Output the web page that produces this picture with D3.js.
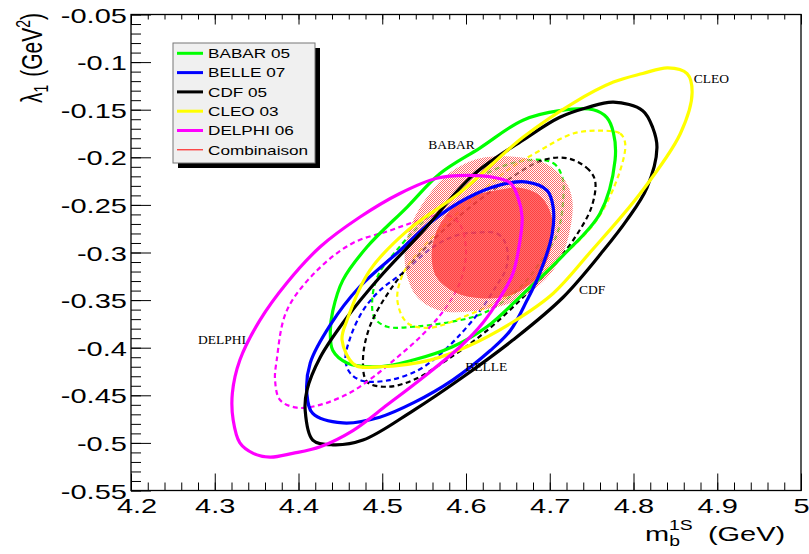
<!DOCTYPE html>
<html>
<head>
<meta charset="utf-8">
<script src="https://cdn.jsdelivr.net/npm/d3@7"></script>
<style>
  html, body { margin: 0; padding: 0; background: #fff; }
  svg { display: block; }
</style>
</head>
<body>
<svg id="chart" width="809" height="554"></svg>
<script>
// ---------------- data ----------------
const xMajorTicks = [4.2, 4.3, 4.4, 4.5, 4.6, 4.7, 4.8, 4.9, 5.0];
const xTickLabels = ["4.2", "4.3", "4.4", "4.5", "4.6", "4.7", "4.8", "4.9", "5"];
const yMajorTicks = [-0.55, -0.5, -0.45, -0.4, -0.35, -0.3, -0.25, -0.2, -0.15, -0.1, -0.05];
const yTickLabels = ["-0.55", "-0.5", "-0.45", "-0.4", "-0.35", "-0.3", "-0.25", "-0.2", "-0.15", "-0.1", "-0.05"];

const legendNames = ["BABAR 05", "BELLE 07", "CDF 05", "CLEO 03", "DELPHI 06", "Combinaison"];
const legendColors = ["#00ff00", "#0000ff", "#000000", "#ffff00", "#ff00ff", "#ff0000"];

// outer (solid) contours  [m_b, lambda1]
const babarSolid = [[4.712,-0.151],[4.752,-0.150],[4.768,-0.158],[4.776,-0.174],[4.778,-0.203],[4.760,-0.259],[4.716,-0.303],[4.664,-0.347],[4.625,-0.378],[4.584,-0.399],[4.537,-0.413],[4.497,-0.420],[4.458,-0.416],[4.441,-0.403],[4.438,-0.382],[4.441,-0.361],[4.453,-0.329],[4.482,-0.294],[4.530,-0.252],[4.569,-0.217],[4.617,-0.190],[4.668,-0.161]];
const belleSolid = [[4.673,-0.226],[4.697,-0.235],[4.704,-0.252],[4.703,-0.280],[4.688,-0.322],[4.673,-0.350],[4.653,-0.382],[4.629,-0.403],[4.584,-0.434],[4.537,-0.458],[4.497,-0.473],[4.453,-0.479],[4.417,-0.469],[4.410,-0.448],[4.414,-0.416],[4.438,-0.376],[4.473,-0.336],[4.521,-0.298],[4.561,-0.266],[4.601,-0.243],[4.641,-0.229]];
const cdfSolid = [[4.776,-0.142],[4.811,-0.151],[4.823,-0.169],[4.828,-0.190],[4.816,-0.232],[4.792,-0.266],[4.764,-0.298],[4.716,-0.347],[4.656,-0.392],[4.596,-0.431],[4.537,-0.466],[4.477,-0.497],[4.441,-0.502],[4.417,-0.497],[4.408,-0.466],[4.410,-0.445],[4.426,-0.410],[4.458,-0.368],[4.497,-0.326],[4.549,-0.277],[4.608,-0.219],[4.668,-0.182],[4.712,-0.158],[4.744,-0.148]];
const cleoSolid = [[4.841,-0.106],[4.864,-0.112],[4.870,-0.132],[4.856,-0.175],[4.808,-0.238],[4.748,-0.300],[4.704,-0.343],[4.656,-0.373],[4.601,-0.399],[4.557,-0.413],[4.497,-0.420],[4.467,-0.418],[4.452,-0.392],[4.458,-0.371],[4.485,-0.319],[4.530,-0.277],[4.593,-0.237],[4.668,-0.179],[4.728,-0.143],[4.776,-0.121],[4.811,-0.112]];
const delphiSolid = [[4.601,-0.219],[4.632,-0.221],[4.653,-0.227],[4.662,-0.242],[4.667,-0.263],[4.664,-0.290],[4.656,-0.322],[4.641,-0.347],[4.620,-0.374],[4.593,-0.399],[4.549,-0.431],[4.506,-0.460],[4.465,-0.487],[4.426,-0.504],[4.393,-0.511],[4.366,-0.515],[4.346,-0.511],[4.330,-0.500],[4.322,-0.476],[4.321,-0.448],[4.330,-0.413],[4.354,-0.371],[4.386,-0.332],[4.426,-0.294],[4.473,-0.263],[4.521,-0.238],[4.565,-0.222]];

// inner (dashed) contours
const babarDashed = [[4.673,-0.203],[4.704,-0.206],[4.715,-0.221],[4.716,-0.245],[4.709,-0.280],[4.688,-0.311],[4.661,-0.340],[4.620,-0.364],[4.581,-0.373],[4.537,-0.378],[4.506,-0.378],[4.491,-0.369],[4.488,-0.350],[4.495,-0.324],[4.515,-0.300],[4.545,-0.271],[4.581,-0.244],[4.629,-0.215]];
const belleDashed = [[4.613,-0.279],[4.637,-0.280],[4.647,-0.290],[4.650,-0.305],[4.647,-0.319],[4.637,-0.334],[4.617,-0.361],[4.589,-0.390],[4.565,-0.410],[4.542,-0.424],[4.509,-0.434],[4.477,-0.435],[4.462,-0.427],[4.456,-0.413],[4.462,-0.389],[4.477,-0.361],[4.497,-0.340],[4.525,-0.321],[4.561,-0.294],[4.589,-0.282]];
const cdfDashed = [[4.721,-0.201],[4.744,-0.211],[4.754,-0.224],[4.750,-0.252],[4.728,-0.287],[4.709,-0.308],[4.676,-0.340],[4.625,-0.382],[4.577,-0.413],[4.537,-0.434],[4.506,-0.441],[4.482,-0.436],[4.477,-0.413],[4.485,-0.378],[4.509,-0.340],[4.545,-0.301],[4.593,-0.261],[4.641,-0.229],[4.692,-0.203]];
const cleoDashed = [[4.764,-0.172],[4.784,-0.175],[4.790,-0.185],[4.784,-0.214],[4.756,-0.266],[4.709,-0.308],[4.656,-0.343],[4.596,-0.368],[4.557,-0.379],[4.530,-0.374],[4.518,-0.350],[4.525,-0.322],[4.545,-0.298],[4.593,-0.256],[4.649,-0.214],[4.688,-0.193],[4.728,-0.175]];
const delphiDashed = [[4.575,-0.260],[4.593,-0.271],[4.600,-0.298],[4.595,-0.326],[4.584,-0.347],[4.569,-0.366],[4.545,-0.389],[4.518,-0.410],[4.489,-0.431],[4.462,-0.447],[4.426,-0.460],[4.398,-0.463],[4.378,-0.455],[4.372,-0.434],[4.374,-0.413],[4.386,-0.361],[4.422,-0.319],[4.465,-0.290],[4.509,-0.277],[4.545,-0.266]];

// combination regions
const comboOuter = [[4.617,-0.201],[4.664,-0.200],[4.698,-0.208],[4.718,-0.224],[4.727,-0.245],[4.724,-0.277],[4.712,-0.308],[4.688,-0.334],[4.653,-0.353],[4.605,-0.362],[4.569,-0.361],[4.543,-0.348],[4.530,-0.326],[4.527,-0.298],[4.536,-0.268],[4.555,-0.240],[4.581,-0.216]];
const comboInner = [[4.635,-0.235],[4.664,-0.232],[4.688,-0.240],[4.700,-0.256],[4.704,-0.277],[4.698,-0.306],[4.682,-0.329],[4.653,-0.345],[4.617,-0.348],[4.587,-0.342],[4.565,-0.326],[4.559,-0.306],[4.563,-0.282],[4.579,-0.258],[4.605,-0.242]];

// experiment labels (data coordinates)
const labelNames = ["BABAR", "CLEO", "CDF", "BELLE", "DELPHI"];
const labelX = [4.555, 4.872, 4.735, 4.599, 4.280];
const labelY = [-0.191, -0.122, -0.344, -0.424, -0.396];

// ---------------- drawing ----------------
const svg = d3.select("#chart");
const SANS = "'Liberation Sans', Arial, Helvetica, sans-serif";
const SERIF = "'Liberation Serif', 'Times New Roman', serif";
const STRETCH = 1.38;

const x = d3.scaleLinear().domain([4.2, 5.0]).range([131, 801]);
const y = d3.scaleLinear().domain([-0.55, -0.05]).range([490.5, 14.5]);

const defs = svg.append("defs");
const pat = defs.append("pattern").attr("id", "stipple")
  .attr("width", 2).attr("height", 2).attr("patternUnits", "userSpaceOnUse");
pat.append("rect").attr("width", 2).attr("height", 2).attr("fill", "#ffffff");
pat.append("rect").attr("x", 0).attr("y", 0).attr("width", 1).attr("height", 1).attr("fill", "#ff1a1a");
pat.append("rect").attr("x", 1).attr("y", 1).attr("width", 1).attr("height", 1).attr("fill", "#ff1a1a");
defs.append("clipPath").attr("id", "plotclip").append("rect")
  .attr("x", 131).attr("y", 14.5).attr("width", 670).attr("height", 476);

const line = d3.line().x(d => x(d[0])).y(d => y(d[1])).curve(d3.curveCatmullRomClosed.alpha(0.5));

const plot = svg.append("g").attr("clip-path", "url(#plotclip)");

// dashed contours (below the combination)
const dashed = [
  [babarDashed, legendColors[0]],
  [belleDashed, legendColors[1]],
  [cdfDashed, legendColors[2]],
  [cleoDashed, legendColors[3]],
  [delphiDashed, legendColors[4]]
];
plot.selectAll("path.dash").data(dashed).join("path").attr("class", "dash")
  .attr("d", d => line(d[0]))
  .attr("fill", "none").attr("stroke", d => d[1])
  .attr("stroke-width", 2.2).attr("stroke-dasharray", "5,3.5");

// combination
plot.append("path").attr("d", line(comboOuter)).attr("fill", "url(#stipple)").attr("fill-opacity", 0.65);
plot.append("path").attr("d", line(comboInner)).attr("fill", "#ff3030").attr("fill-opacity", 0.7);

// solid contours
const solid = [
  [babarSolid, legendColors[0]],
  [belleSolid, legendColors[1]],
  [cdfSolid, legendColors[2]],
  [cleoSolid, legendColors[3]],
  [delphiSolid, legendColors[4]]
];
plot.selectAll("path.solid").data(solid).join("path").attr("class", "solid")
  .attr("d", d => line(d[0]))
  .attr("fill", "none").attr("stroke", d => d[1])
  .attr("stroke-width", 3.2).attr("stroke-linejoin", "round");

// labels
svg.selectAll("text.exp").data(labelNames).join("text").attr("class", "exp")
  .attr("x", (d, i) => x(labelX[i])).attr("y", (d, i) => y(labelY[i]))
  .attr("font-family", SERIF).attr("font-size", 13.5).attr("fill", "#000")
  .text(d => d);

// ---------------- axes ----------------
const minorX = d3.range(0, 41).map(i => 4.2 + i * 0.02);
const minorY = d3.range(0, 51).map(i => -0.55 + i * 0.01);

function styleAxis(g) {
  g.select(".domain").remove();
  g.selectAll("line").attr("stroke", "#000").attr("stroke-width", 1);
}

// bottom
svg.append("g").attr("transform", `translate(0,${y(-0.55)})`)
  .call(d3.axisBottom(x).tickValues(minorX).tickSize(-8).tickFormat("")).call(styleAxis);
const xb = svg.append("g").attr("transform", `translate(0,${y(-0.55)})`)
  .call(d3.axisBottom(x).tickValues(xMajorTicks).tickSize(-17).tickPadding(6)
    .tickFormat((d, i) => xTickLabels[i])).call(styleAxis);
xb.selectAll("text").attr("font-family", SANS).attr("font-size", 21).attr("fill", "#000")
  .attr("y", 22.5).attr("dy", 0)
  .attr("x", (d, i) => i === 0 ? 4 : 0)
  .attr("transform", `scale(${STRETCH},1)`);

// top
svg.append("g").attr("transform", `translate(0,${y(-0.05)})`)
  .call(d3.axisTop(x).tickValues(minorX).tickSize(-5).tickFormat("")).call(styleAxis);
svg.append("g").attr("transform", `translate(0,${y(-0.05)})`)
  .call(d3.axisTop(x).tickValues(xMajorTicks).tickSize(-10).tickFormat("")).call(styleAxis);

// left
svg.append("g").attr("transform", `translate(${x(4.2)},0)`)
  .call(d3.axisLeft(y).tickValues(minorY).tickSize(-10).tickFormat("")).call(styleAxis);
const yl = svg.append("g").attr("transform", `translate(${x(4.2)},0)`)
  .call(d3.axisLeft(y).tickValues(yMajorTicks).tickSize(-20).tickPadding(3)
    .tickFormat((d, i) => yTickLabels[i])).call(styleAxis);
yl.selectAll("text").attr("font-family", SANS).attr("font-size", 21).attr("fill", "#000")
  .attr("dy", "0.36em").attr("transform", `scale(${STRETCH},1)`);

// frame
svg.append("rect").attr("x", x(4.2)).attr("y", y(-0.05))
  .attr("width", x(5.0) - x(4.2)).attr("height", y(-0.55) - y(-0.05))
  .attr("fill", "none").attr("stroke", "#000").attr("stroke-width", 1.3);

// axis titles
const xt = svg.append("g").attr("transform", `translate(645,541) scale(${STRETCH},1)`)
  .append("text").attr("font-family", SANS).attr("font-size", 21).attr("fill", "#000");
xt.append("tspan").text("m");
xt.append("tspan").attr("font-size", 14).attr("dy", 5).text("b");
xt.append("tspan").attr("font-size", 14).attr("dx", -7.8).attr("dy", -16).text("1S");
xt.append("tspan").attr("dx", 11).attr("dy", 11).text("(GeV)");

const yt = svg.append("g").attr("transform", `translate(42,13) scale(${STRETCH},1) rotate(-90)`)
  .append("text").attr("text-anchor", "end").attr("font-family", SANS).attr("font-size", 21).attr("fill", "#000");
yt.append("tspan").text("λ");
yt.append("tspan").attr("font-size", 14).attr("dy", 4).text("1");
yt.append("tspan").attr("dy", -4).attr("dx", 8).text("(GeV");
yt.append("tspan").attr("font-size", 14).attr("dy", -9).text("2");
yt.append("tspan").attr("dy", 9).text(")");

// ---------------- legend ----------------
const lg = svg.append("g");
lg.append("rect").attr("x", 178).attr("y", 48).attr("width", 142).attr("height", 120).attr("fill", "#000");
lg.append("rect").attr("x", 173).attr("y", 43).attr("width", 142).attr("height", 120)
  .attr("fill", "#f0f0f0").attr("stroke", "#777").attr("stroke-width", 1);
const items = lg.selectAll("g.item").data(legendNames).join("g").attr("class", "item")
  .attr("transform", (d, i) => `translate(0,${53.3 + i * 19.3})`);
items.append("line").attr("x1", 177).attr("x2", 203).attr("y1", 0).attr("y2", 0)
  .attr("stroke", (d, i) => legendColors[i])
  .attr("stroke-width", (d, i) => i === 5 ? 1 : 3);
items.append("text").attr("transform", "translate(208,4.7) scale(1.32,1)")
  .attr("font-family", SANS).attr("font-size", 13).attr("fill", "#000").text(d => d);
</script>
</body>
</html>
